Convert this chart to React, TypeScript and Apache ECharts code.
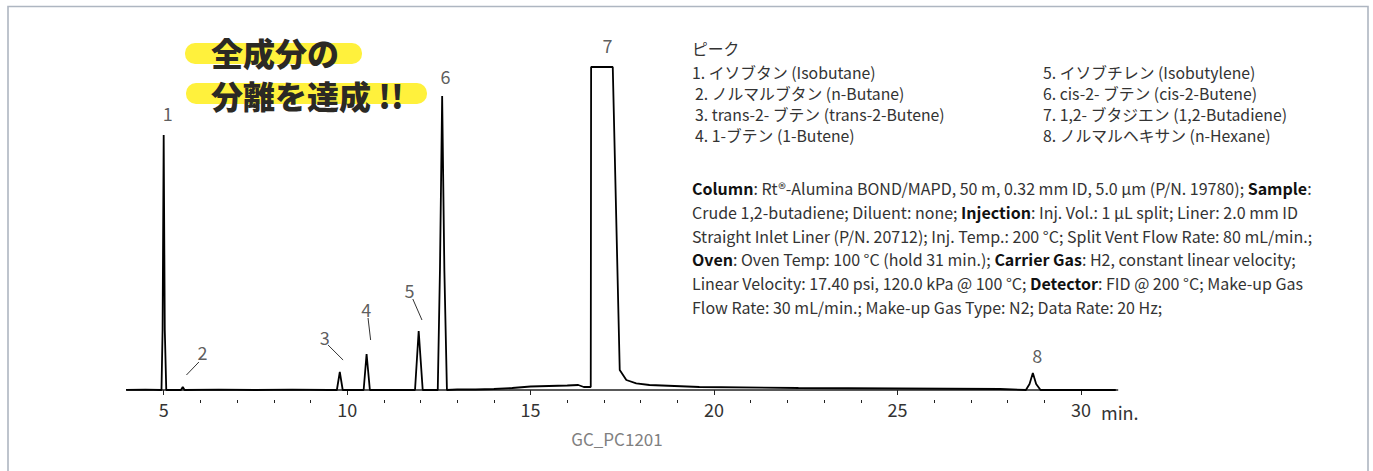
import React, { useEffect, useRef } from "react";
import * as echarts from "echarts";

// ---- data ----
// chromatogram trace: [retention time (min), detector signal (arb.)]
const trace: [number, number][] = [
  [3.9, 0], [4.5, 0.3], [4.94, 0], [4.97, 60], [5.0, 255], [5.03, 60], [5.07, 0],
  [5.3, 0], [5.47, 0], [5.52, 3], [5.57, 0], [6.5, 0.3], [7.5, 0], [8.5, 0.3],
  [9.5, 0], [9.72, 0], [9.8, 18], [9.88, 0], [10.2, 0], [10.45, 0], [10.53, 36],
  [10.62, 0], [11.0, 0], [11.85, 0], [11.95, 59], [12.06, 0], [12.3, 0], [12.47, 0],
  [12.53, 120], [12.59, 294], [12.65, 120], [12.72, 0], [13.0, 0.5], [13.5, 0.5],
  [14.0, 1], [14.5, 2], [15.0, 3.5], [15.5, 4], [16.0, 4.5], [16.3, 5], [16.45, 3],
  [16.64, 3], [16.65, 323], [17.24, 323], [17.43, 20], [17.61, 10], [17.88, 6.7],
  [18.24, 5], [19.6, 3], [22.3, 2], [25.0, 1.5], [27.8, 1], [28.5, 0], [28.6, 6],
  [28.69, 17], [28.78, 6], [28.9, 0], [29.5, 0], [30.95, 0],
];

const peakNames = ["1", "2", "3", "4", "5", "6", "7", "8"];
// where each peak number is written (time, signal)
const peakLabelTime = [5.11, 6.06, 9.39, 10.52, 11.7, 12.68, 17.1, 28.81];
const peakLabelValue = [277, 38, 53, 81, 100, 314, 345, 35];
// leader lines: [t1, v1, t2, v2]
const leaderLines: [number, number, number, number][] = [
  [5.62, 15, 5.96, 28],
  [9.48, 45, 9.89, 30],
  [10.57, 72, 10.64, 50],
  [11.79, 91, 12.04, 70],
];

const tickLabels = [5, 10, 15, 20, 25, 30];
const minorTicks = [6, 7, 8, 9, 11, 12, 13, 14, 16, 17, 18, 19, 21, 22, 23, 24, 26, 27, 28, 29];

const titleLines = ["全成分の", "分離を達成 !!"];
const legendHeader = "ピーク";
const legendLeft = [
  "1. イソブタン (Isobutane)",
  "2. ノルマルブタン (n-Butane)",
  "3. trans-2- ブテン (trans-2-Butene)",
  "4. 1-ブテン (1-Butene)",
];
const legendRight = [
  "5. イソブチレン (Isobutylene)",
  "6. cis-2- ブテン (cis-2-Butene)",
  "7. 1,2- ブタジエン (1,2-Butadiene)",
  "8. ノルマルヘキサン (n-Hexane)",
];
const conditionLines = [
  "{b|Column}: Rt®-Alumina BOND/MAPD, 50 m, 0.32 mm ID, 5.0 µm (P/N. 19780); {b|Sample}:",
  "Crude 1,2-butadiene; Diluent: none; {b|Injection}: Inj. Vol.: 1 µL split; Liner: 2.0 mm ID",
  "Straight Inlet Liner (P/N. 20712); Inj. Temp.: 200 °C; Split Vent Flow Rate: 80 mL/min.;",
  "{b|Oven}: Oven Temp: 100 °C (hold 31 min.); {b|Carrier Gas}: H2, constant linear velocity;",
  "Linear Velocity: 17.40 psi, 120.0 kPa @ 100 °C; {b|Detector}: FID @ 200 °C; Make-up Gas",
  "Flow Rate: 30 mL/min.; Make-up Gas Type: N2; Data Rate: 20 Hz;",
];
const axisUnit = "min.";
const figureCode = "GC_PC1201";

const FONT = '"Noto Sans CJK JP", "Noto Sans", sans-serif';

export default function App() {
  const ref = useRef<HTMLDivElement>(null);

  useEffect(() => {
    if (!ref.current) return;
    const chart = echarts.init(ref.current, undefined, { renderer: "svg" });

    const graphics: any[] = [];
    // frame
    graphics.push({
      type: "rect",
      shape: { x: 8, y: 6.5, width: 1360, height: 480 },
      style: { fill: "none", stroke: "#aeb6c1", lineWidth: 1.6 },
      silent: true,
    });
    // title highlights
    graphics.push({
      type: "rect",
      shape: { x: 185, y: 43, width: 177, height: 21, r: 10 },
      style: { fill: "#fff13c" },
      silent: true,
    });
    graphics.push({
      type: "rect",
      shape: { x: 186, y: 83, width: 241, height: 21, r: 10 },
      style: { fill: "#fff13c" },
      silent: true,
    });
    titleLines.forEach((t, i) => {
      graphics.push({
        type: "text",
        x: 211,
        y: 52 + i * 43,
        style: {
          text: t,
          fontFamily: FONT,
          fontSize: 32,
          lineHeight: 34,
          fontWeight: 900,
          fill: "#2b2925",
          textAlign: "left",
          textVerticalAlign: "middle",
          align: "left",
          verticalAlign: "middle",
        },
        silent: true,
      });
    });
    // legend
    const legendStyle = (text: string) => ({
      text,
      fontFamily: FONT,
      fontSize: 15.8,
      fill: "#333",
      textAlign: "left",
      textVerticalAlign: "middle",
      align: "left",
      verticalAlign: "middle",
    });
    graphics.push({ type: "text", x: 692, y: 48, style: legendStyle(legendHeader), silent: true });
    legendLeft.forEach((t, i) => {
      graphics.push({
        type: "text",
        x: i === 0 ? 692 : 695,
        y: 72 + i * 21,
        style: legendStyle(t),
        silent: true,
      });
    });
    legendRight.forEach((t, i) => {
      graphics.push({ type: "text", x: 1043, y: 72 + i * 21, style: legendStyle(t), silent: true });
    });
    // conditions
    conditionLines.forEach((t, i) => {
      graphics.push({
        type: "text",
        x: 692,
        y: 188 + i * 23.8,
        style: {
          text: t,
          fontFamily: FONT,
          fontSize: 16,
          fill: "#333",
          textAlign: "left",
          textVerticalAlign: "middle",
          align: "left",
          verticalAlign: "middle",
          rich: {
            b: { fontFamily: FONT, fontSize: 16, fontWeight: "bold", fill: "#111" },
          },
        },
        silent: true,
      });
    });
    // axis unit
    graphics.push({
      type: "text",
      x: 1101,
      y: 412,
      style: {
        text: axisUnit,
        fontFamily: FONT,
        fontSize: 18,
        fill: "#333",
        textAlign: "left",
        textVerticalAlign: "middle",
        align: "left",
        verticalAlign: "middle",
      },
      silent: true,
    });
    // figure code
    graphics.push({
      type: "text",
      x: 617,
      y: 438,
      style: {
        text: figureCode,
        fontFamily: FONT,
        fontSize: 17,
        fill: "#808080",
        textAlign: "center",
        textVerticalAlign: "middle",
        align: "center",
        verticalAlign: "middle",
      },
      silent: true,
    });

    const option: any = {
      animation: false,
      backgroundColor: "#fff",
      grid: { left: 127, right: 255.4, top: 30, bottom: 71, containLabel: false },
      xAxis: [
        {
          type: "value",
          min: 4,
          max: 31,
          position: "bottom",
          axisLine: { show: true, lineStyle: { color: "#222", width: 1.5 } },
          axisTick: {
            show: true,
            customValues: tickLabels,
            length: 5,
            lineStyle: { color: "#222", width: 1 },
          },
          axisLabel: {
            customValues: tickLabels,
            fontFamily: FONT,
            fontSize: 18,
            color: "#333",
            margin: 0,
          },
          splitLine: { show: false },
        },
        {
          type: "value",
          min: 4,
          max: 31,
          position: "bottom",
          offset: 0,
          axisLine: { show: false },
          axisTick: {
            show: true,
            customValues: minorTicks,
            length: 3,
            lineStyle: { color: "#222", width: 1 },
          },
          axisLabel: { show: false },
          splitLine: { show: false },
        },
      ],
      yAxis: { type: "value", min: -10, max: 360, show: false },
      series: [
        {
          type: "line",
          data: trace,
          xAxisIndex: 0,
          showSymbol: false,
          symbol: "none",
          clip: false,
          lineStyle: { color: "#000", width: 1.8 },
          markLine: {
            silent: true,
            symbol: ["none", "none"],
            label: { show: false },
            lineStyle: { color: "#333", width: 1, type: "solid" },
            data: leaderLines.map((l) => [{ coord: [l[0], l[1]] }, { coord: [l[2], l[3]] }]),
          },
        },
        {
          type: "scatter",
          xAxisIndex: 0,
          symbolSize: 0,
          clip: false,
          silent: true,
          data: peakNames.map((n, i) => ({ value: [peakLabelTime[i], peakLabelValue[i]], name: n })),
          label: {
            show: true,
            position: "inside",
            formatter: (p: any) => p.name,
            fontFamily: FONT,
            fontSize: 18,
            color: "#333",
          },
        },
      ],
      graphic: graphics,
    };
    chart.setOption(option);
    return () => chart.dispose();
  }, []);

  return (
    <div
      ref={ref}
      style={{ position: "fixed", left: 0, top: 0, width: 1373, height: 471 }}
    />
  );
}
